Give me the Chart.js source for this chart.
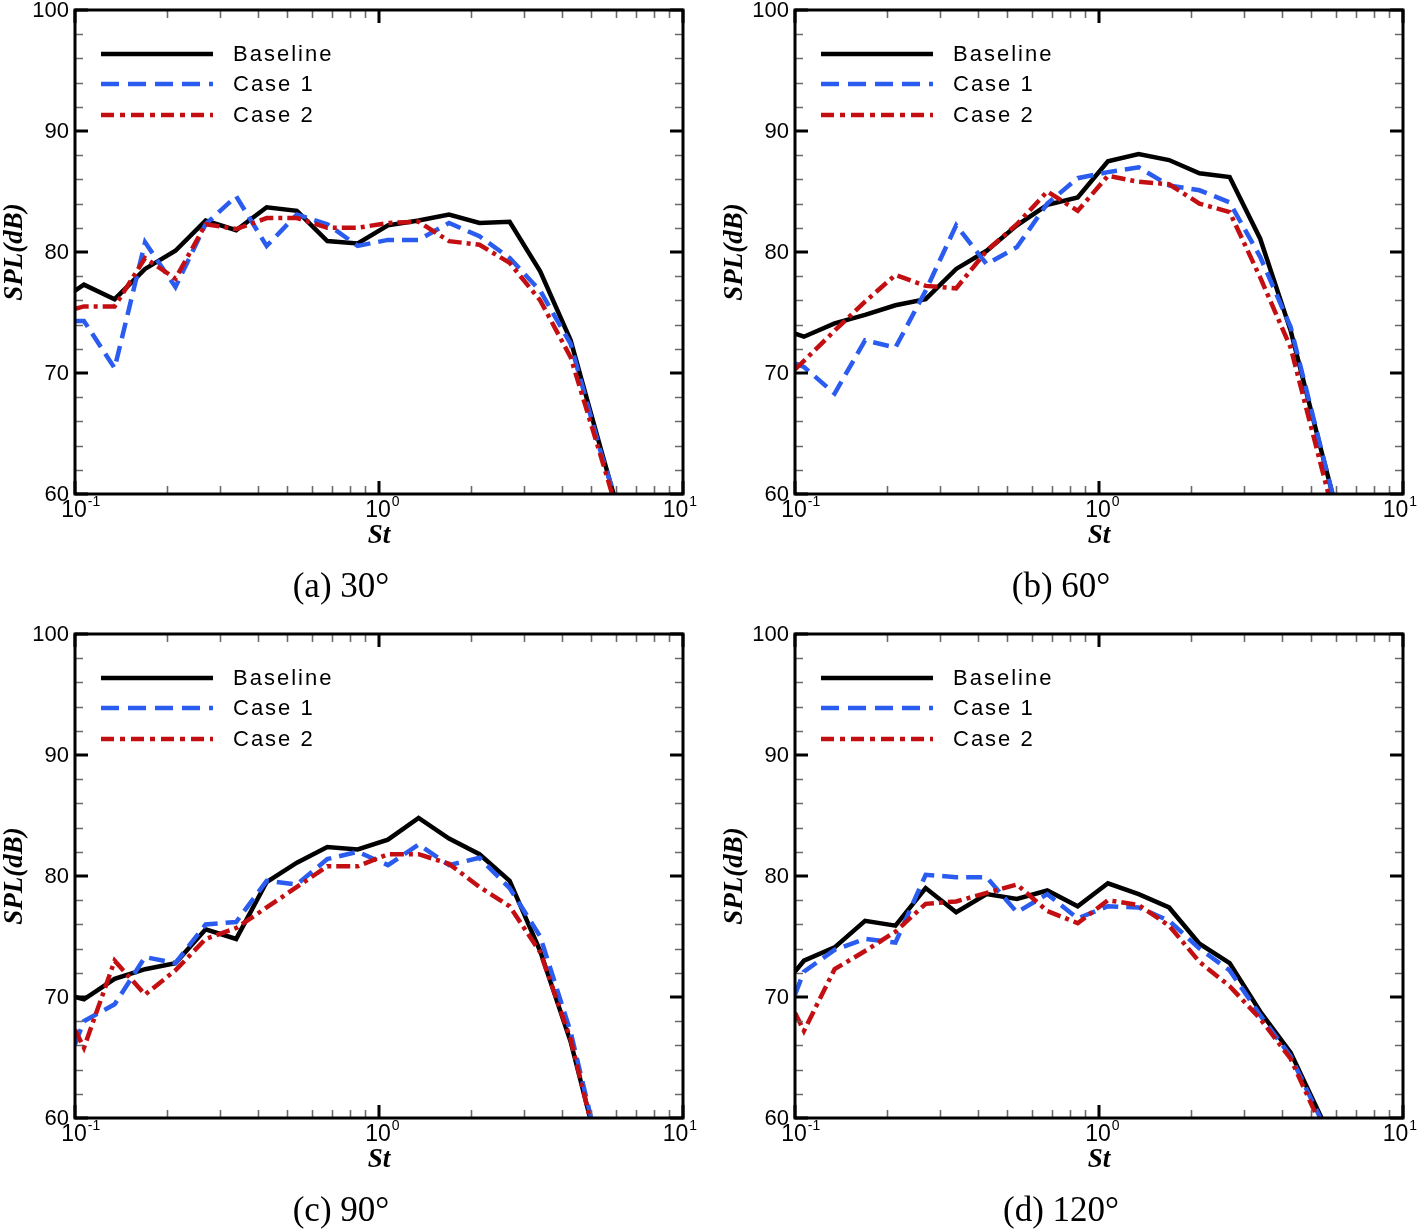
<!DOCTYPE html>
<html>
<head>
<meta charset="utf-8">
<script src="https://cdn.jsdelivr.net/npm/chart.js@4.4.0/dist/chart.umd.min.js"></script>
<style>
  body { margin: 0; background: #fff; overflow: hidden; }
  #wrap { position: relative; width: 1418px; height: 1229px; background: #fff; }
  canvas { position: absolute; }
</style>
</head>
<body>
<div id="wrap">
  <canvas id="c30" width="698" height="605" style="left:0px;top:0px"></canvas>
  <canvas id="c60" width="698" height="605" style="left:720px;top:0px"></canvas>
  <canvas id="c90" width="698" height="605" style="left:0px;top:624px"></canvas>
  <canvas id="c120" width="698" height="605" style="left:720px;top:624px"></canvas>
</div>
<script>
// DADOS - Strouhal (1/3 de oitava) e SPL em dB
const st = [0.1, 0.107, 0.135, 0.17, 0.214, 0.269, 0.339, 0.427, 0.537, 0.676, 0.851, 1.07, 1.35, 1.70, 2.14, 2.69, 3.39, 4.27, 5.37, 6.76];

// (a) 30 graus
const base30  = [76.8, 77.3, 76.1, 78.6, 80.1, 82.6, 81.8, 83.7, 83.4, 80.9, 80.7, 82.2, 82.6, 83.1, 82.4, 82.5, 78.4, 72.7, 63.7, 54.8];
const case1_30 = [74.3, 74.3, 70.4, 80.8, 77.1, 82.3, 84.6, 80.5, 83.1, 82.3, 80.5, 81.0, 81.0, 82.4, 81.3, 79.5, 76.8, 72.4, 63.4, 55.5];
const case2_30 = [75.3, 75.5, 75.5, 79.5, 77.8, 82.3, 81.9, 82.8, 82.8, 82.0, 82.0, 82.4, 82.5, 80.9, 80.6, 79.1, 76.0, 71.3, 63.1, 54.7];

// (b) 60 graus
const base60  = [73.25, 73.0, 74.1, 74.8, 75.6, 76.1, 78.6, 80.1, 82.2, 83.9, 84.5, 87.5, 88.1, 87.6, 86.5, 86.2, 81.1, 73.5, 63.7, 54.0];
const case1_60 = [70.8, 70.5, 68.3, 72.7, 72.1, 76.8, 82.2, 79.0, 80.4, 84.0, 86.1, 86.6, 87.0, 85.5, 85.1, 84.1, 79.6, 73.8, 63.8, 53.9];
const case2_60 = [70.3, 71.0, 73.5, 75.9, 78.1, 77.2, 77.0, 80.1, 82.3, 85.0, 83.4, 86.3, 85.8, 85.6, 84.0, 83.3, 77.9, 72.1, 62.4, 52.7];

// (c) 90 graus
const base90  = [70.0, 69.8, 71.5, 72.3, 72.8, 75.6, 74.8, 79.5, 81.1, 82.4, 82.2, 83.0, 84.8, 83.1, 81.8, 79.6, 73.8, 66.3, 56.5, 47.0];
const case1_90 = [66.1, 68.0, 69.4, 73.3, 72.8, 76.0, 76.2, 79.6, 79.3, 81.4, 82.0, 80.9, 82.6, 80.9, 81.5, 79.0, 75.0, 67.1, 56.6, 47.0];
const case2_90 = [67.3, 65.8, 73.0, 70.2, 72.2, 74.8, 75.7, 77.4, 79.1, 80.8, 80.8, 81.8, 81.8, 81.0, 79.1, 77.5, 73.7, 66.5, 56.3, 47.0];

// (d) 120 graus
const base120  = [72.1, 73.0, 74.1, 76.3, 75.9, 79.0, 77.0, 78.5, 78.1, 78.8, 77.5, 79.4, 78.5, 77.4, 74.4, 72.8, 68.8, 65.4, 60.1, 54.7];
const case1_120 = [70.2, 72.1, 73.9, 74.8, 74.5, 80.1, 79.9, 79.9, 77.0, 78.5, 76.5, 77.5, 77.4, 76.3, 74.0, 72.2, 68.5, 65.1, 59.9, 54.5];
const case2_120 = [68.7, 67.2, 72.3, 73.8, 75.4, 77.7, 77.9, 78.6, 79.3, 77.1, 76.1, 78.0, 77.6, 75.9, 72.9, 70.9, 68.2, 64.9, 59.4, 54.0];

// EIXOS
const yTicks = [60, 70, 80, 90, 100];
const yMinor = [62, 64, 66, 68, 72, 74, 76, 78, 82, 84, 86, 88, 92, 94, 96, 98];
const xTicks = [0.1, 1, 10];
const xTickBase = ['10', '10', '10'];
const xTickExp = ['-1', '0', '1'];
const xMinor = [0.2, 0.3, 0.4, 0.5, 0.6, 0.7, 0.8, 0.9, 2, 3, 4, 5, 6, 7, 8, 9];

const seriesNames = ['Baseline', 'Case 1', 'Case 2'];
const captions = ['(a) 30°', '(b) 60°', '(c) 90°', '(d) 120°'];

const SANS = '"Liberation Sans", Arial, sans-serif';
const SERIF = '"Liberation Serif", "Times New Roman", serif';

function pts(vals) {
  return st.map((x, i) => ({ x: x, y: vals[i] }));
}

// PLUGIN: moldura, ticks internos, rotulos, legenda e legenda da figura
const moldura = {
  id: 'moldura',
  afterDatasetsDraw(chart, args, opts) {
    const ctx = chart.ctx;
    const a = chart.chartArea;
    const xs = chart.scales.x;
    const ys = chart.scales.y;

    ctx.save();

    // ticks menores
    ctx.strokeStyle = '#6a6a6a';
    ctx.lineWidth = 1.6;
    ctx.beginPath();
    xMinor.forEach(v => {
      const px = Math.round(xs.getPixelForValue(v)) + 0.5;
      ctx.moveTo(px, a.bottom); ctx.lineTo(px, a.bottom - 8);
      ctx.moveTo(px, a.top); ctx.lineTo(px, a.top + 8);
    });
    yMinor.forEach(v => {
      const py = Math.round(ys.getPixelForValue(v)) + 0.5;
      ctx.moveTo(a.left, py); ctx.lineTo(a.left + 8, py);
      ctx.moveTo(a.right, py); ctx.lineTo(a.right - 8, py);
    });
    ctx.stroke();

    // ticks maiores
    ctx.strokeStyle = '#000';
    ctx.lineWidth = 3;
    ctx.beginPath();
    xTicks.forEach(v => {
      const px = xs.getPixelForValue(v);
      ctx.moveTo(px, a.bottom); ctx.lineTo(px, a.bottom - 13);
      ctx.moveTo(px, a.top); ctx.lineTo(px, a.top + 13);
    });
    yTicks.forEach(v => {
      const py = ys.getPixelForValue(v);
      ctx.moveTo(a.left, py); ctx.lineTo(a.left + 13, py);
      ctx.moveTo(a.right, py); ctx.lineTo(a.right - 13, py);
    });
    ctx.stroke();

    // moldura
    ctx.lineWidth = 3;
    ctx.strokeRect(a.left, a.top, a.right - a.left, a.bottom - a.top);

    // rotulos y
    ctx.fillStyle = '#000';
    ctx.font = '22px ' + SANS;
    ctx.textAlign = 'right';
    ctx.textBaseline = 'middle';
    yTicks.forEach(v => {
      ctx.fillText(String(v), a.left - 6, ys.getPixelForValue(v) + 1);
    });

    // rotulos x (10 com expoente)
    ctx.textAlign = 'left';
    ctx.textBaseline = 'top';
    xTicks.forEach((v, i) => {
      const px = xs.getPixelForValue(v);
      ctx.font = '23px ' + SANS;
      const w = ctx.measureText(xTickBase[i]).width;
      ctx.font = '14px ' + SANS;
      const we = ctx.measureText(xTickExp[i]).width;
      let x0 = px - 1 - w / 2;
      if (x0 + w + 1 + we > chart.width - 1) x0 = chart.width - 1 - we - 1 - w;
      ctx.font = '23px ' + SANS;
      ctx.fillText(xTickBase[i], x0, a.bottom + 5);
      ctx.font = '14px ' + SANS;
      ctx.fillText(xTickExp[i], x0 + w + 1, a.bottom + 1);
    });

    // titulos dos eixos
    ctx.font = 'italic bold 27px ' + SERIF;
    ctx.textAlign = 'center';
    ctx.textBaseline = 'middle';
    ctx.fillText('St', (a.left + a.right) / 2, 536);
    ctx.save();
    ctx.translate(15, (a.top + a.bottom) / 2);
    ctx.rotate(-Math.PI / 2);
    ctx.fillText('SPL(dB)', 0, 0);
    ctx.restore();

    // legenda da figura
    ctx.font = '35px ' + SERIF;
    ctx.fillText(opts.caption, 341, 588);

    // legenda das curvas
    const rows = [54, 84, 115];
    chart.data.datasets.forEach((ds, i) => {
      const y = rows[i];
      ctx.save();
      ctx.strokeStyle = ds.borderColor;
      ctx.lineWidth = ds.borderWidth;
      ctx.setLineDash(ds.legendDash || []);
      ctx.beginPath();
      ctx.moveTo(101, y);
      ctx.lineTo(213, y);
      ctx.stroke();
      ctx.restore();
      ctx.font = '22px ' + SANS;
      ctx.letterSpacing = '2px';
      ctx.textAlign = 'left';
      ctx.textBaseline = 'middle';
      ctx.fillText(ds.label, 233, y + 1);
      ctx.letterSpacing = '0px';
    });

    ctx.restore();
  }
};

function makeChart(id, base, c1, c2, caption) {
  new Chart(document.getElementById(id), {
    type: 'line',
    data: {
      datasets: [
        {
          label: seriesNames[0],
          data: pts(base),
          borderColor: '#000000',
          borderWidth: 4.5,
          pointRadius: 0,
          tension: 0,
          order: 3,
          legendDash: []
        },
        {
          label: seriesNames[1],
          data: pts(c1),
          borderColor: '#2a5cf0',
          borderWidth: 4.5,
          borderDash: [16, 8],
          pointRadius: 0,
          tension: 0,
          order: 2,
          legendDash: [18, 9]
        },
        {
          label: seriesNames[2],
          data: pts(c2),
          borderColor: '#c40f12',
          borderWidth: 4.5,
          borderDash: [14, 5, 4, 5],
          pointRadius: 0,
          tension: 0,
          order: 1,
          legendDash: [13, 6, 5, 6]
        }
      ]
    },
    options: {
      responsive: false,
      animation: false,
      layout: { padding: { left: 75, top: 10, right: 15, bottom: 111 } },
      scales: {
        x: { type: 'logarithmic', min: 0.1, max: 10, display: false },
        y: { type: 'linear', min: 60, max: 100, display: false }
      },
      plugins: {
        legend: { display: false },
        tooltip: { enabled: false },
        moldura: { caption: caption }
      }
    },
    plugins: [moldura]
  });
}

makeChart('c30', base30, case1_30, case2_30, captions[0]);
makeChart('c60', base60, case1_60, case2_60, captions[1]);
makeChart('c90', base90, case1_90, case2_90, captions[2]);
makeChart('c120', base120, case1_120, case2_120, captions[3]);
</script>
</body>
</html>
